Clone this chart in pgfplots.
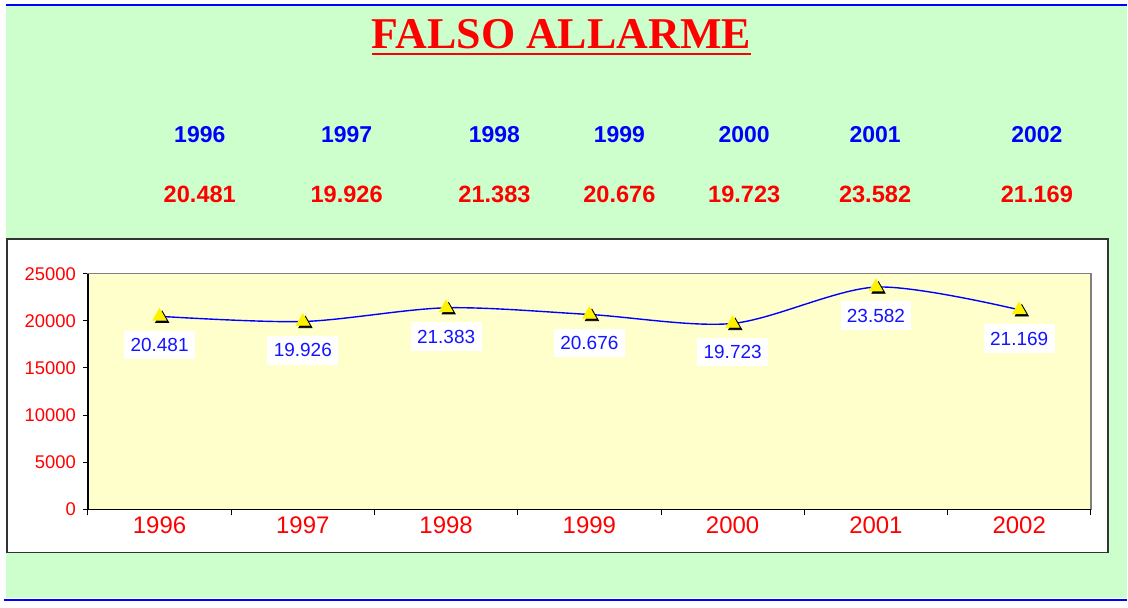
\documentclass[border=0pt]{standalone}
\usepackage{fontspec}
\setmainfont{Liberation Sans}
\newfontfamily\titlefont{Liberation Serif}
\usepackage{pgfplots}
\pgfplotsset{compat=1.18}
\definecolor{bggreen}{RGB}{204,255,204}
\definecolor{plotyellow}{RGB}{255,255,204}
\definecolor{lblblue}{RGB}{20,20,255}
\begin{document}
\begin{tikzpicture}[x=1pt,y=1pt]
% page and background
\fill[white] (0,0) rectangle (564,304);
\fill[bggreen] (3,4.5) rectangle (564,301);
\draw[blue,line width=1.1pt] (3,301.5) -- (564,301.5);
\draw[blue,line width=1.2pt] (2,3.6) -- (564,3.6);
% title
\node[anchor=base,text=red,font=\titlefont\bfseries\fontsize{22}{24}\selectfont,inner sep=0pt] (T) at (281,279.5) {FALSO ALLARME};
\draw[red,line width=1.3pt] (T.west |- 0,277) -- (T.east |- 0,277);
% header table
\foreach \x/\yr/\v in {100/1996/20.481,173.5/1997/19.926,247.5/1998/21.383,310/1999/20.676,372.5/2000/19.723,438/2001/23.582,519/2002/21.169}{
  \node[anchor=base,text=blue,font=\bfseries\fontsize{11.5}{13}\selectfont,inner sep=0pt] at (\x,232.5) {\yr};
  \node[anchor=base,text=red,font=\bfseries\fontsize{11.8}{13}\selectfont,inner sep=0pt] at (\x,202.5) {\v};
}
% white chart box
\filldraw[fill=white,draw=black!80,line width=0.8pt] (3.5,27.5) rectangle (554.5,184.5);
\begin{axis}[
  at={(44pt,49pt)}, anchor=south west,
  scale only axis, width=502pt, height=118pt,
  xmin=-0.5, xmax=6.5, ymin=0, ymax=25000,
  axis background/.style={fill=plotyellow},
  axis line style={draw=gray, line width=0.7pt},
  xtick={0,...,6},
  xticklabels={1996,1997,1998,1999,2000,2001,2002},
  minor xtick={-0.5,0.5,...,6.5},
  ytick={0,5000,10000,15000,20000,25000},
  xtick pos=bottom, ytick pos=left,
  tick align=outside,
  major x tick style={draw=none},
  major tick length=2.5pt, minor tick length=3pt,
  tick style={black, line width=0.5pt},
  xticklabel style={text=red, font=\fontsize{12}{13}\selectfont, yshift=2.5pt},
  yticklabel style={text=red, font=\fontsize{9.2}{10}\selectfont},
  /pgf/number format/assume math mode=true,
  scaled y ticks=false,
  y tick label style={/pgf/number format/1000 sep={}},
  clip=false,
]
\draw[black, line width=0.7pt] (rel axis cs:0,1) -- (rel axis cs:0,0) -- (rel axis cs:1,0);
% shadow of markers
\addplot[only marks, mark=triangle*, mark size=3.8pt, mark options={fill=black, draw=black, xshift=1.3pt, yshift=-1.2pt}] coordinates {
(0,20481) (1,19926) (2,21383) (3,20676) (4,19723) (5,23582) (6,21169)};
% smooth line
\addplot[blue, line width=0.7pt, smooth, mark=none] coordinates {
(0,20481) (1,19926) (2,21383) (3,20676) (4,19723) (5,23582) (6,21169)};
% yellow markers with labels
\addplot[only marks, mark=triangle*, mark size=3.8pt, mark options={fill=yellow, draw=yellow},
  point meta=explicit symbolic,
  nodes near coords,
  every node near coord/.style={anchor=north, yshift=-7pt, fill=white, text=lblblue, inner xsep=3.2pt, inner ysep=3.8pt, font=\fontsize{9.5}{11}\selectfont}]
coordinates {
(0,20481)[20.481] (1,19926)[19.926] (2,21383)[21.383] (3,20676)[20.676] (4,19723)[19.723] (5,23582)[23.582] (6,21169)[21.169]};
\end{axis}
\end{tikzpicture}
\end{document}
